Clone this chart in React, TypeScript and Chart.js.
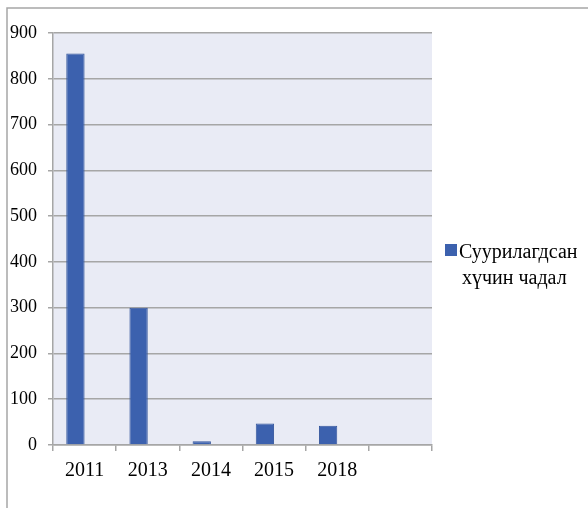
import React, { useEffect, useRef } from "react";
import { Chart, registerables } from "chart.js";

Chart.register(...registerables);

const categories = ["2011", "2013", "2014", "2015", "2018", ""];
const seriesLabel = "Суурилагдсан хүчин чадал";
const seriesValues = [855, 300, 8, 47, 42, null];
const emptySeries = [null, null, null, null, null, null];
const yMin = 0;
const yMax = 900;
const yStep = 100;

const FONT = "'Liberation Serif', 'Times New Roman', serif";
const GRID = "#A6A6A6";
const BAR = "#3C61AE";

const framePlugin = {
  id: "frameAndLegend",
  beforeDraw(chart: any) {
    const ctx = chart.ctx;
    const { left, top, right, bottom } = chart.chartArea;
    ctx.save();
    ctx.fillStyle = "#E9EBF5";
    ctx.fillRect(left, top, right - left, bottom - top);
    ctx.strokeStyle = GRID;
    ctx.lineWidth = 1.5;
    ctx.beginPath();
    ctx.moveTo(7, chart.height);
    ctx.lineTo(7, 8);
    ctx.lineTo(chart.width, 8);
    ctx.stroke();
    ctx.restore();
  },
  afterDraw(chart: any) {
    const ctx = chart.ctx;
    const ds = chart.data.datasets[0];
    const label: string = ds.label;
    const idx = label.indexOf(" ");
    const lines = [label.slice(0, idx), label.slice(idx + 1)];
    ctx.save();
    ctx.fillStyle = ds.backgroundColor;
    ctx.fillRect(445, 244, 12, 12);
    ctx.fillStyle = "#000";
    ctx.font = `20px ${FONT}`;
    ctx.textBaseline = "alphabetic";
    ctx.textAlign = "left";
    ctx.fillText(lines[0], 459, 258);
    ctx.fillText(lines[1], 462, 284);
    ctx.restore();
  },
};

export default function App() {
  const ref = useRef<HTMLCanvasElement | null>(null);

  useEffect(() => {
    if (!ref.current) return;
    const chart = new Chart(ref.current, {
      type: "bar",
      data: {
        labels: categories,
        datasets: [
          {
            label: seriesLabel,
            data: seriesValues,
            backgroundColor: BAR,
            borderColor: "#34569C",
            borderWidth: 1,
            categoryPercentage: 0.58,
            barPercentage: 1,
          },
          {
            label: "",
            data: emptySeries,
            backgroundColor: BAR,
            categoryPercentage: 0.58,
            barPercentage: 1,
          },
        ],
      },
      options: {
        animation: false,
        responsive: false,
        maintainAspectRatio: false,
        layout: { padding: { top: 33, right: 156, left: 0, bottom: 0 } },
        plugins: {
          legend: { display: false },
          tooltip: { enabled: false },
          title: { display: false },
        },
        scales: {
          x: {
            afterFit: (s: any) => {
              s.height = 63;
            },
            grid: {
              drawOnChartArea: false,
              drawTicks: true,
              tickLength: 6,
              color: GRID,
              lineWidth: 1.5,
            },
            border: { display: true, color: GRID, width: 1.5 },
            ticks: {
              color: "#000",
              font: { family: FONT, size: 20 },
              padding: 8,
              maxRotation: 0,
              autoSkip: false,
            },
          },
          y: {
            min: yMin,
            max: yMax,
            afterFit: (s: any) => {
              s.width = 53;
            },
            grid: {
              color: GRID,
              lineWidth: 1.5,
              tickLength: 5,
            },
            border: { display: true, color: GRID, width: 1.5 },
            ticks: {
              stepSize: yStep,
              color: "#000",
              font: { family: FONT, size: 18 },
              padding: 11,
            },
          },
        },
      },
      plugins: [framePlugin],
    });
    return () => chart.destroy();
  }, []);

  return (
    <div style={{ position: "fixed", left: 0, top: 0, width: 588, height: 508, background: "#fff" }}>
      <canvas ref={ref} width={588} height={508} style={{ display: "block", width: 588, height: 508 }} />
    </div>
  );
}
